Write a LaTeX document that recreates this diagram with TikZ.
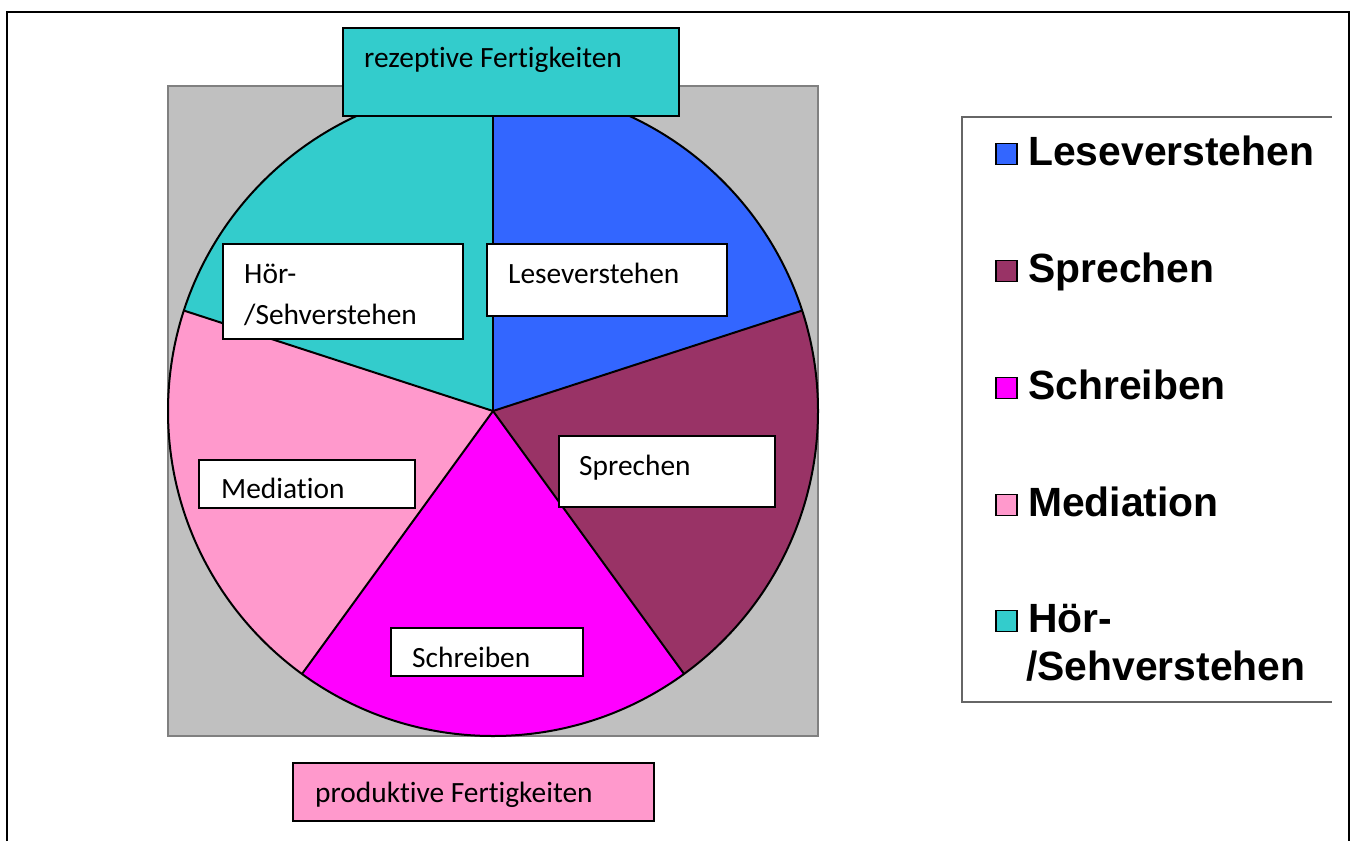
\documentclass[tikz,border=0pt]{standalone}
\usepackage{fontspec}
\setmainfont{Carlito}[Ligatures=NoCommon]
\newfontfamily\legfont{Liberation Sans}
\definecolor{cLese}{HTML}{3366FF}
\definecolor{cSpr}{HTML}{993366}
\definecolor{cSchr}{HTML}{FF00FF}
\definecolor{cMed}{HTML}{FF99CC}
\definecolor{cHoer}{HTML}{33CCCC}
\definecolor{cGrayBg}{HTML}{C0C0C0}
\definecolor{cGrayLn}{HTML}{808080}
\tikzset{
  slice/.style={draw=black, line width=2bp, line join=round},
  lblbox/.style={draw=black, line width=1.5bp, fill=white, inner sep=0pt, rectangle},
  lbl/.style={font=\fontsize{29.5}{34}\selectfont, inner sep=0pt, anchor=base west},
  legtxt/.style={font=\legfont\bfseries\fontsize{41}{46}\selectfont, inner sep=0pt, anchor=base west},
  legsq/.style={draw=black, line width=1.5bp, minimum size=21bp, inner sep=0pt, rectangle}
}
\begin{document}
\begin{tikzpicture}[x=1bp,y=-1bp]
\useasboundingbox (0,0) rectangle (1356,841);
% outer frame
\draw[line width=2bp] (7,841) -- (7,12) -- (1349,12) -- (1349,841);
% gray plot area
\node[draw=cGrayLn, fill=cGrayBg, line width=2bp, minimum width=650bp, minimum height=650bp, inner sep=0pt] (plot) at (493,411) {};
% pie
\coordinate (c) at (493,411);
\fill[cLese] (c) -- ++(-90:325) arc[start angle=-90, end angle=-18, radius=325] -- cycle;
\fill[cSpr] (c) -- ++(-18:325) arc[start angle=-18, end angle=54, radius=325] -- cycle;
\fill[cSchr] (c) -- ++(54:325) arc[start angle=54, end angle=126, radius=325] -- cycle;
\fill[cMed] (c) -- ++(126:325) arc[start angle=126, end angle=198, radius=325] -- cycle;
\fill[cHoer] (c) -- ++(198:325) arc[start angle=198, end angle=270, radius=325] -- cycle;
\draw[slice] (c) circle[radius=325];
\foreach \a in {-90,-18,54,126,198} \draw[slice] (c) -- ++(\a:325);
% header / footer boxes
\node[lblbox, fill=cHoer, minimum width=336bp, minimum height=88bp] (bRez) at (511,72) {};
\node[lbl] (tRez) at (364,67) {rezeptive Fertigkeiten};
\node[lblbox, fill=cMed, minimum width=361bp, minimum height=58bp] (bProd) at (473.5,792) {};
\node[lbl] (tProd) at (315,802) {produktive Fertigkeiten};
% slice labels
\node[lblbox, minimum width=240bp, minimum height=95bp] (bHoer) at (343,291.5) {};
\node[lbl] (tHoerA) at (244,283) {Hör-};
\node[lbl] (tHoerB) at (244,324) {/Sehverstehen};
\node[lblbox, minimum width=240bp, minimum height=72bp] (bLese) at (607,280) {};
\node[lbl] (tLese) at (508,283) {Leseverstehen};
\node[lblbox, minimum width=216bp, minimum height=71bp] (bSpr) at (667,471.5) {};
\node[lbl] (tSpr) at (579,475) {Sprechen};
\node[lblbox, minimum width=216bp, minimum height=48bp] (bMed) at (307,484) {};
\node[lbl] (tMed) at (221,498) {Mediation};
\node[lblbox, minimum width=192bp, minimum height=48bp] (bSchr) at (487,652) {};
\node[lbl] (tSchr) at (412,667) {Schreiben};
% legend
\draw[draw=black!60, line width=1.2bp] (1332,117) -- (962,117) -- (962,702) -- (1332,702);
\node[legsq, fill=cLese] (sqLese) at (1006.5,154) {};
\node[legtxt] (lgLese) at (1028,165) {Leseverstehen};
\node[legsq, fill=cSpr] (sqSpr) at (1006.5,271) {};
\node[legtxt] (lgSpr) at (1028,282) {Sprechen};
\node[legsq, fill=cSchr] (sqSchr) at (1006.5,388) {};
\node[legtxt] (lgSchr) at (1028,399) {Schreiben};
\node[legsq, fill=cMed] (sqMed) at (1006.5,505) {};
\node[legtxt] (lgMed) at (1028,516) {Mediation};
\node[legsq, fill=cHoer] (sqHoer) at (1006.5,621) {};
\node[legtxt] (lgHoerA) at (1028,632) {Hör-};
\node[legtxt] (lgHoerB) at (1026,680) {/Sehverstehen};
\end{tikzpicture}
\end{document}
